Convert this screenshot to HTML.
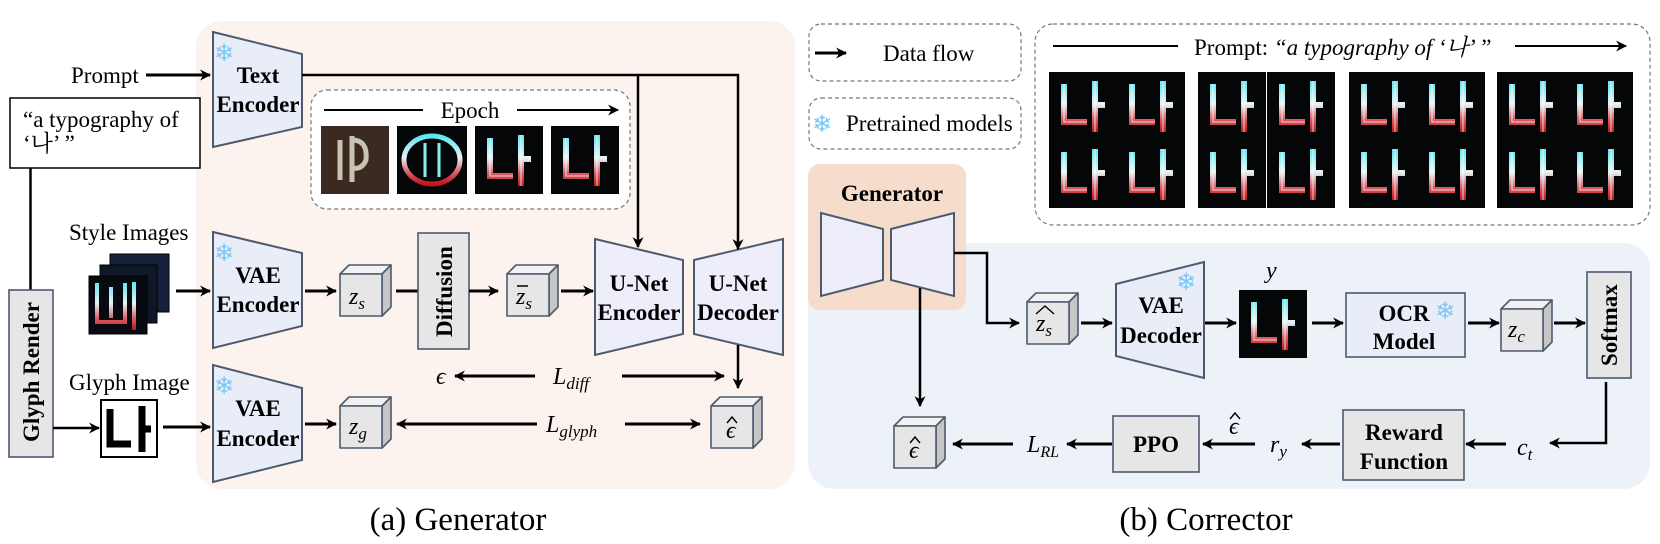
<!DOCTYPE html>
<html><head><meta charset="utf-8"><style>
html,body{margin:0;padding:0;background:#fff}
svg{display:block}
svg text{font-family:"Liberation Serif","Times New Roman","DejaVu Serif","Noto Serif CJK SC",serif;fill:#000}
.b{font-weight:bold;font-size:23px}
.n{font-size:23px}
.m{font-style:italic;font-size:24px}
svg text.sf{font-family:"DejaVu Sans",sans-serif;fill:#7cc8f2;font-size:24px}
</style></head><body>
<svg width="1660" height="544" viewBox="0 0 1660 544" xmlns="http://www.w3.org/2000/svg" font-family="Liberation Serif, serif">
<defs>
<marker id="a" viewBox="0 0 10 10" refX="9" refY="5" markerWidth="11" markerHeight="11" markerUnits="userSpaceOnUse" orient="auto"><path d="M0,0 L10,5 L0,10 L3,5z" fill="#000"/></marker>
<g id="cube" stroke="#4d5a6e" stroke-width="1.6" stroke-linejoin="round">
<polygon points="0,9 9,0 51,0 42,9" fill="#f2f2f2"/>
<polygon points="42,9 51,0 51,42 42,51" fill="#c6c6c6"/>
<rect x="0" y="9" width="42" height="42" fill="#e6e6e6"/>
</g>
<linearGradient id="g" x1="0" y1="0" x2="0" y2="1">
<stop offset="0" stop-color="#5fe6f0"/><stop offset="0.45" stop-color="#e8f4f4"/><stop offset="0.75" stop-color="#d8606a"/><stop offset="1" stop-color="#c01818"/></linearGradient>
<g id="nah">
<rect width="68" height="68" fill="#050607"/>
<path d="M15,12 V50 H38 M46,9 V60 M46,33 H56" fill="none" stroke="url(#g)" stroke-width="6"/>
<path d="M15,12 V50 H38 M46,9 V60" fill="none" stroke="#fff" stroke-opacity="0.5" stroke-width="1.5"/>
</g>
<path id="hat" d="M0,6 L5,0 L10,6" fill="none" stroke="#000" stroke-width="1.4"/>
</defs>

<!-- panels -->
<rect x="196" y="21" width="599" height="468" rx="26" fill="#fcf3ee"/>
<rect x="808" y="243" width="842" height="246" rx="26" fill="#edf2f9"/>
<rect x="808" y="164" width="158" height="146" rx="12" fill="#f5dccb"/>

<!-- left inputs -->
<text class="n" x="71" y="83">Prompt</text>
<line x1="146" y1="75" x2="210" y2="75" stroke="#000" stroke-width="3" marker-end="url(#a)"/>
<rect x="10" y="98" width="190" height="70" fill="#fff" stroke="#000" stroke-width="1.5"/>
<text class="n" x="23" y="127">“a typography of</text>
<text class="n" x="23" y="151">‘나’ ”</text>
<line x1="30.5" y1="168" x2="30.5" y2="290" stroke="#000" stroke-width="2.5"/>
<rect x="9" y="290" width="44" height="167" fill="#e6e6e6" stroke="#4d5a6e" stroke-width="1.6"/>
<text class="b" transform="translate(39,442) rotate(-90)">Glyph Render</text>

<text class="n" x="69" y="240">Style Images</text>
<rect x="110" y="254" width="59" height="58" fill="#17203a" stroke="#000"/>
<rect x="100" y="265" width="57" height="58" fill="#101828" stroke="#000"/>
<rect x="89" y="276" width="58" height="58" fill="#070a10" stroke="#000"/>
<path d="M97,283 V322 H125 V283 M111,287 V318 M134,282 V330" fill="none" stroke="url(#g)" stroke-width="4"/>
<line x1="176" y1="291" x2="210" y2="291" stroke="#000" stroke-width="3" marker-end="url(#a)"/>

<text class="n" x="69" y="390">Glyph Image</text>
<line x1="53" y1="428" x2="99" y2="428" stroke="#000" stroke-width="2.5" marker-end="url(#a)"/>
<rect x="101" y="400" width="56" height="57" fill="#fff" stroke="#000" stroke-width="2"/>
<path d="M110,409 V444 H131 M142,406 V452 M142,429 H151" fill="none" stroke="#000" stroke-width="7"/>
<line x1="163" y1="427" x2="210" y2="427" stroke="#000" stroke-width="3" marker-end="url(#a)"/>

<!-- encoders -->
<g stroke="#4d5a6e" stroke-width="2" fill="#e9edf8">
<polygon points="213,32 302,54 302,127 213,147"/>
<polygon points="213,232 302,253 302,326 213,348"/>
<polygon points="213,365 302,388 302,460 213,482"/>
<polygon points="595,239 683,260 683,334 595,355" fill="#eeeefb"/>
<polygon points="694,260 783,239 783,355 694,334" fill="#eeeefb"/>
<polygon points="1116,284 1204,262 1204,378 1116,356"/>
<polygon points="821,213 883,229 883,280 821,296" fill="#eeeefb"/>
<polygon points="891,229 954,213 954,296 891,280" fill="#eeeefb"/>
</g>
<text class="sf" x="214" y="61">❄</text>
<text class="sf" x="214" y="261">❄</text>
<text class="sf" x="214" y="394">❄</text>
<text class="b" text-anchor="middle" x="258" y="83">Text</text>
<text class="b" text-anchor="middle" x="258" y="112">Encoder</text>
<text class="b" text-anchor="middle" x="258" y="283">VAE</text>
<text class="b" text-anchor="middle" x="258" y="312">Encoder</text>
<text class="b" text-anchor="middle" x="258" y="416">VAE</text>
<text class="b" text-anchor="middle" x="258" y="446">Encoder</text>
<text class="b" text-anchor="middle" x="639" y="291">U-Net</text>
<text class="b" text-anchor="middle" x="639" y="320">Encoder</text>
<text class="b" text-anchor="middle" x="738" y="291">U-Net</text>
<text class="b" text-anchor="middle" x="738" y="320">Decoder</text>

<!-- top condition lines -->
<polyline points="302,75 738,75 738,249" fill="none" stroke="#000" stroke-width="2.5" marker-end="url(#a)"/>
<line x1="638" y1="75" x2="638" y2="247" stroke="#000" stroke-width="2.5" marker-end="url(#a)"/>

<!-- epoch box -->
<rect x="311" y="90" width="319" height="119" rx="16" fill="#fff" stroke="#777" stroke-width="1.2" stroke-dasharray="4,3"/>
<line x1="324" y1="110" x2="423" y2="110" stroke="#000" stroke-width="2"/>
<text class="n" text-anchor="middle" x="470" y="118">Epoch</text>
<line x1="517" y1="110" x2="618" y2="110" stroke="#000" stroke-width="2" marker-end="url(#a)"/>
<rect x="321" y="126" width="68" height="68" fill="#3b2a22"/>
<path d="M340,140 V180 M352,136 V182 M352,140 Q368,140 366,160 Q362,170 352,168" fill="none" stroke="#c9c3b2" stroke-width="5"/>
<rect x="397" y="126" width="70" height="68" fill="#050608"/>
<ellipse cx="432" cy="160" rx="28" ry="24" fill="none" stroke="url(#g)" stroke-width="5"/>
<path d="M425,143 V177 M439,143 V177" stroke="#8ee" stroke-width="3"/>
<use href="#nah" x="475" y="126"/>
<use href="#nah" x="551" y="126"/>

<!-- middle row -->
<line x1="305" y1="291" x2="336" y2="291" stroke="#000" stroke-width="3" marker-end="url(#a)"/>
<use href="#cube" x="340" y="265"/>
<text class="m" x="349" y="304">z<tspan font-size="17" dy="5">s</tspan></text>
<line x1="396" y1="291" x2="418" y2="291" stroke="#000" stroke-width="3"/>
<rect x="418" y="233" width="51" height="116" fill="#e6e6e6" stroke="#4d5a6e" stroke-width="1.6"/>
<text class="b" transform="translate(452,337) rotate(-90)">Diffusion</text>
<line x1="469" y1="291" x2="498" y2="291" stroke="#000" stroke-width="3" marker-end="url(#a)"/>
<use href="#cube" x="507" y="265"/>
<text class="m" x="516" y="304">z<tspan font-size="17" dy="5">s</tspan></text>
<line x1="517" y1="286" x2="528" y2="286" stroke="#000" stroke-width="1.5"/>
<line x1="561" y1="291" x2="593" y2="291" stroke="#000" stroke-width="3" marker-end="url(#a)"/>

<!-- loss rows -->
<line x1="738" y1="345" x2="738" y2="388" stroke="#000" stroke-width="2.5" marker-end="url(#a)"/>
<text class="m" x="436" y="384">ϵ</text>
<line x1="535" y1="376" x2="455" y2="376" stroke="#000" stroke-width="3" marker-end="url(#a)"/>
<text class="m" x="553" y="384">L<tspan font-size="17" dy="5">diff</tspan></text>
<line x1="622" y1="376" x2="724" y2="376" stroke="#000" stroke-width="3" marker-end="url(#a)"/>
<use href="#cube" x="711" y="397"/>
<text class="m" x="726" y="438">ϵ</text>
<use href="#hat" x="727" y="417"/>

<line x1="305" y1="424" x2="336" y2="424" stroke="#000" stroke-width="3" marker-end="url(#a)"/>
<use href="#cube" x="340" y="397"/>
<text class="m" x="349" y="434">z<tspan font-size="17" dy="5">g</tspan></text>
<line x1="537" y1="424" x2="397" y2="424" stroke="#000" stroke-width="3" marker-end="url(#a)"/>
<text class="m" x="546" y="432">L<tspan font-size="17" dy="5">glyph</tspan></text>
<line x1="625" y1="424" x2="700" y2="424" stroke="#000" stroke-width="3" marker-end="url(#a)"/>

<text text-anchor="middle" x="458" y="530" font-size="33">(a) Generator</text>

<!-- legend -->
<rect x="809" y="24" width="212" height="57" rx="12" fill="#fff" stroke="#777" stroke-width="1.2" stroke-dasharray="4,3"/>
<line x1="815" y1="53" x2="846" y2="53" stroke="#000" stroke-width="3" marker-end="url(#a)"/>
<text class="n" x="883" y="61">Data flow</text>
<rect x="809" y="98" width="212" height="51" rx="12" fill="#fff" stroke="#777" stroke-width="1.2" stroke-dasharray="4,3"/>
<text class="sf" x="812" y="132">❄</text>
<text class="n" x="846" y="131">Pretrained models</text>

<!-- prompt results box -->
<rect x="1035" y="24" width="615" height="201" rx="18" fill="#fff" stroke="#777" stroke-width="1.2" stroke-dasharray="4,3"/>
<line x1="1053" y1="46" x2="1178" y2="46" stroke="#000" stroke-width="2"/>
<text class="n" x="1194" y="55">Prompt: <tspan font-style="italic">“a typography of ‘나’ ”</tspan></text>
<line x1="1515" y1="46" x2="1626" y2="46" stroke="#000" stroke-width="2" marker-end="url(#a)"/>
<g>
<use href="#nah" x="1049" y="72"/><use href="#nah" x="1117" y="72"/><use href="#nah" x="1049" y="140"/><use href="#nah" x="1117" y="140"/>
<use href="#nah" x="1198" y="72"/><use href="#nah" x="1267" y="72"/><use href="#nah" x="1198" y="140"/><use href="#nah" x="1267" y="140"/>
<use href="#nah" x="1349" y="72"/><use href="#nah" x="1417" y="72"/><use href="#nah" x="1349" y="140"/><use href="#nah" x="1417" y="140"/>
<use href="#nah" x="1497" y="72"/><use href="#nah" x="1565" y="72"/><use href="#nah" x="1497" y="140"/><use href="#nah" x="1565" y="140"/>
</g>

<!-- corrector -->
<text class="b" text-anchor="middle" x="892" y="201">Generator</text>
<polyline points="954,253 987,253 987,323 1019,323" fill="none" stroke="#000" stroke-width="2.5" marker-end="url(#a)"/>
<line x1="920" y1="288" x2="920" y2="406" stroke="#000" stroke-width="2.5" marker-end="url(#a)"/>
<use href="#cube" x="1027" y="293"/>
<text class="m" x="1036" y="331">z<tspan font-size="17" dy="5">s</tspan></text>
<path d="M1036,314 L1045,306 L1054,314" fill="none" stroke="#000" stroke-width="1.4"/>
<line x1="1081" y1="323" x2="1112" y2="323" stroke="#000" stroke-width="3" marker-end="url(#a)"/>
<text class="sf" x="1176" y="290">❄</text>
<text class="b" text-anchor="middle" x="1161" y="313">VAE</text>
<text class="b" text-anchor="middle" x="1161" y="343">Decoder</text>
<line x1="1205" y1="323" x2="1236" y2="323" stroke="#000" stroke-width="3" marker-end="url(#a)"/>
<text class="m" x="1266" y="278">y</text>
<use href="#nah" x="1239" y="290"/>
<line x1="1312" y1="323" x2="1343" y2="323" stroke="#000" stroke-width="3" marker-end="url(#a)"/>
<rect x="1346" y="293" width="119" height="64" fill="#e9edf8" stroke="#4d5a6e" stroke-width="1.6"/>
<text class="b" text-anchor="middle" x="1404" y="321">OCR</text>
<text class="b" text-anchor="middle" x="1404" y="349">Model</text>
<text class="sf" x="1435" y="319">❄</text>
<line x1="1468" y1="323" x2="1499" y2="323" stroke="#000" stroke-width="3" marker-end="url(#a)"/>
<use href="#cube" x="1501" y="300"/>
<text class="m" x="1508" y="337">z<tspan font-size="17" dy="5">c</tspan></text>
<line x1="1554" y1="323" x2="1585" y2="323" stroke="#000" stroke-width="3" marker-end="url(#a)"/>
<rect x="1587" y="272" width="44" height="106" fill="#e6e6e6" stroke="#4d5a6e" stroke-width="1.6"/>
<text class="b" transform="translate(1617,366) rotate(-90)">Softmax</text>
<polyline points="1606,382 1606,443 1550,443" fill="none" stroke="#000" stroke-width="2.5" marker-end="url(#a)"/>
<text class="m" x="1517" y="455">c<tspan font-size="17" dy="5">t</tspan></text>
<line x1="1506" y1="444" x2="1466" y2="444" stroke="#000" stroke-width="3" marker-end="url(#a)"/>
<rect x="1343" y="410" width="121" height="70" fill="#e6e6e6" stroke="#4d5a6e" stroke-width="1.6"/>
<text class="b" text-anchor="middle" x="1404" y="440">Reward</text>
<text class="b" text-anchor="middle" x="1404" y="469">Function</text>
<line x1="1340" y1="444" x2="1302" y2="444" stroke="#000" stroke-width="3" marker-end="url(#a)"/>
<text class="m" x="1270" y="452">r<tspan font-size="17" dy="5">y</tspan></text>
<line x1="1255" y1="444" x2="1203" y2="444" stroke="#000" stroke-width="3" marker-end="url(#a)"/>
<text class="m" x="1229" y="434">ϵ</text>
<use href="#hat" x="1230" y="413"/>
<rect x="1113" y="416" width="86" height="56" fill="#e6e6e6" stroke="#4d5a6e" stroke-width="1.6"/>
<text class="b" text-anchor="middle" x="1156" y="452">PPO</text>
<line x1="1112" y1="444" x2="1067" y2="444" stroke="#000" stroke-width="3" marker-end="url(#a)"/>
<text class="m" x="1027" y="452">L<tspan font-size="16" dy="5">RL</tspan></text>
<line x1="1013" y1="444" x2="953" y2="444" stroke="#000" stroke-width="3" marker-end="url(#a)"/>
<use href="#cube" x="894" y="417"/>
<text class="m" x="909" y="458">ϵ</text>
<use href="#hat" x="910" y="437"/>

<text text-anchor="middle" x="1206" y="530" font-size="33">(b) Corrector</text>
</svg>
</body></html>
